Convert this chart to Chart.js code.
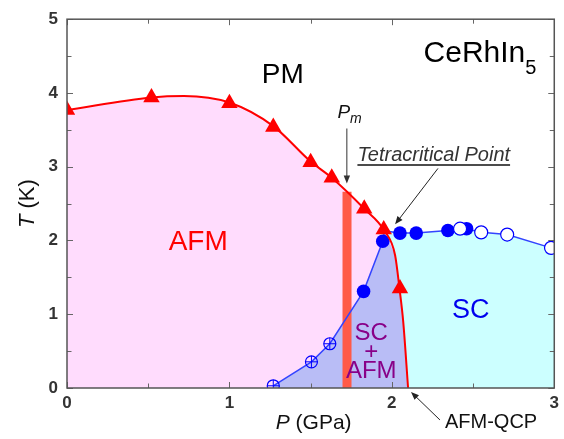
<!DOCTYPE html>
<html>
<head>
<meta charset="utf-8">
<script src="https://cdn.jsdelivr.net/npm/chart.js@4.4.1/dist/chart.umd.min.js"></script>
<style>
  html, body { margin: 0; padding: 0; background: #fff; }
  canvas { display: block; }
</style>
</head>
<body>
<canvas id="c" width="564" height="439"></canvas>
<script>
// T_N of the AFM phase (red triangles)
const tnP = [0, 0.52, 1.0, 1.27, 1.50, 1.63, 1.83, 1.95, 2.05];
const tnT = [3.77, 3.94, 3.86, 3.54, 3.06, 2.85, 2.43, 2.15, 1.35];

// red AFM boundary
const afmP = [0, 0.52, 0.72, 1.0, 1.27, 1.5, 1.63, 1.83, 1.955, 2.02, 2.047, 2.07, 2.1];
const afmT = [3.77, 3.94, 3.96, 3.87, 3.55, 3.07, 2.85, 2.43, 2.13, 1.8, 1.35, 0.9, 0];

// Tc, crossed open circles
const crossP = [1.27, 1.505, 1.618];
const crossT = [0.03, 0.355, 0.60];
// Tc, filled circles
const fullP = [1.826, 1.944, 2.05, 2.15, 2.345, 2.46];
const fullT = [1.31, 1.99, 2.10, 2.10, 2.135, 2.16];
// Tc, open circles
const openP = [2.42, 2.55, 2.71, 2.98];
const openT = [2.16, 2.11, 2.08, 1.90];

// blue SC boundary
const scP = [1.27, 1.505, 1.618, 1.826, 1.944, 1.955, 2.05, 2.15, 2.345, 2.42, 2.46, 2.55, 2.71, 2.98, 3.0];
const scT = [0.03, 0.355, 0.60, 1.31, 1.99, 2.13, 2.10, 2.10, 2.135, 2.16, 2.16, 2.11, 2.08, 1.90, 1.88];

// P_m bar
const pmP = [1.724, 1.724];
const pmT = [0, 2.66];

const xTicks = [0, 1, 2, 3];
const yTicks = [0, 1, 2, 3, 4, 5];

const pts = (xs, ys) => xs.map((x, i) => ({ x: x, y: ys[i] }));
const tcIdx = 5; // tetracritical point in scP
const lavPts = pts(scP.slice(0, tcIdx + 1), scT.slice(0, tcIdx + 1)).concat(pts(afmP.slice(9), afmT.slice(9)));
const cyanPts = pts(scP.slice(tcIdx), scT.slice(tcIdx));

const FONT = '"Liberation Sans", Arial, Helvetica, sans-serif';
const NONE = 'rgba(0,0,0,0)';

function drawParts(ctx, parts, x, y, align) {
  let total = 0;
  const ws = parts.map(p => { ctx.font = p[1]; const w = ctx.measureText(p[0]).width; total += w; return w; });
  let sx = align === 'center' ? x - total / 2 : align === 'right' ? x - total : x;
  ctx.textAlign = 'left';
  ctx.textBaseline = 'alphabetic';
  parts.forEach((p, i) => {
    ctx.font = p[1];
    ctx.fillText(p[0], sx, y + (p[2] || 0));
    sx += ws[i];
  });
  return total;
}

function arrow(ctx, x1, y1, x2, y2, color) {
  const a = Math.atan2(y2 - y1, x2 - x1), L = 8, W = 3.2;
  ctx.strokeStyle = color; ctx.fillStyle = color; ctx.lineWidth = 1;
  ctx.beginPath(); ctx.moveTo(x1, y1); ctx.lineTo(x2 - Math.cos(a) * L * 0.8, y2 - Math.sin(a) * L * 0.8); ctx.stroke();
  ctx.beginPath();
  ctx.moveTo(x2, y2);
  ctx.lineTo(x2 - Math.cos(a) * L - Math.sin(a) * W, y2 - Math.sin(a) * L + Math.cos(a) * W);
  ctx.lineTo(x2 - Math.cos(a) * L + Math.sin(a) * W, y2 - Math.sin(a) * L - Math.cos(a) * W);
  ctx.closePath(); ctx.fill();
}

const decor = {
  id: 'decor',
  afterDatasetsDraw(chart) {
    const ctx = chart.ctx, a = chart.chartArea, sx = chart.scales.x, sy = chart.scales.y;
    ctx.save();
    ctx.strokeStyle = '#666';
    ctx.lineWidth = 1;
    for (let v = 0; v <= 3.001; v += 0.5) {
      const x = Math.round(sx.getPixelForValue(v)) + 0.5, len = v % 1 === 0 ? 6 : 4.5;
      ctx.beginPath();
      ctx.moveTo(x, a.bottom); ctx.lineTo(x, a.bottom - len);
      ctx.moveTo(x, a.top); ctx.lineTo(x, a.top + len);
      ctx.stroke();
    }
    for (let v = 0; v <= 5.001; v += 0.5) {
      const y = Math.round(sy.getPixelForValue(v)) + 0.5, len = v % 1 === 0 ? 6 : 4.5;
      ctx.beginPath();
      ctx.moveTo(a.left, y); ctx.lineTo(a.left + len, y);
      ctx.moveTo(a.right, y); ctx.lineTo(a.right - len, y);
      ctx.stroke();
    }
    ctx.strokeStyle = '#555';
    ctx.lineWidth = 1.5;
    ctx.strokeRect(a.left, a.top, a.right - a.left, a.bottom - a.top);
    ctx.restore();
  },
  afterDraw(chart) {
    const ctx = chart.ctx, a = chart.chartArea, sx = chart.scales.x, sy = chart.scales.y;
    const X = v => sx.getPixelForValue(v), Y = v => sy.getPixelForValue(v);
    ctx.save();
    // phase labels
    ctx.fillStyle = '#000';
    drawParts(ctx, [['PM', '28px ' + FONT]], X(1.329), Y(4.14), 'center');
    drawParts(ctx, [['CeRhIn', '30px ' + FONT], ['5', '20px ' + FONT, 12]], X(2.89), Y(4.425), 'right');
    ctx.fillStyle = '#ff0000';
    drawParts(ctx, [['AFM', '28px ' + FONT]], X(0.808), Y(1.867), 'center');
    ctx.fillStyle = '#0000ee';
    drawParts(ctx, [['SC', '27px ' + FONT]], X(2.486), Y(0.947), 'center');
    ctx.fillStyle = '#880088';
    drawParts(ctx, [['SC', '24px ' + FONT]], X(1.873), Y(0.65), 'center');
    drawParts(ctx, [['+', '24px ' + FONT]], X(1.873), Y(0.392), 'center');
    drawParts(ctx, [['AFM', '24px ' + FONT]], X(1.873), Y(0.135), 'center');
    // P_m
    ctx.fillStyle = '#111';
    drawParts(ctx, [['P', 'italic 19px ' + FONT], ['m', 'italic 14px ' + FONT, 5]], X(1.665), Y(3.654), 'left');
    arrow(ctx, X(1.723), Y(3.518), X(1.723), Y(2.774), '#333');
    // tetracritical point
    const w = drawParts(ctx, [['Tetracritical Point', 'italic 20px ' + FONT]], X(1.788), Y(3.072), 'left');
    ctx.strokeStyle = '#111'; ctx.lineWidth = 1.5;
    ctx.beginPath(); ctx.moveTo(X(1.788), Y(3.072) + 3.5); ctx.lineTo(X(1.788) + w, Y(3.072) + 3.5); ctx.stroke();
    arrow(ctx, X(2.284), Y(2.977), X(2.020), Y(2.219), '#222');
    // AFM-QCP
    ctx.fillStyle = '#111';
    drawParts(ctx, [['AFM-QCP', '20px ' + FONT]], X(2.327), Y(-0.541), 'left');
    arrow(ctx, X(2.296), Y(-0.433), X(2.118), Y(-0.054), '#222');
    // axis titles
    ctx.fillStyle = '#111';
    drawParts(ctx, [['P', 'italic 21px ' + FONT], [' (GPa)', '21px ' + FONT]], (a.left + a.right) / 2 + 3, 429, 'center');
    ctx.translate(34, (a.top + a.bottom) / 2);
    ctx.rotate(-Math.PI / 2);
    drawParts(ctx, [['T', 'italic 22px ' + FONT], [' (K)', '22px ' + FONT]], 0, 0, 'center');
    ctx.restore();
  }
};

const tickFont = { family: FONT, size: 17, weight: 'bold' };

new Chart(document.getElementById('c'), {
  type: 'scatter',
  data: {
    datasets: [
      { data: pts(tnP, tnT), pointStyle: 'triangle', pointRadius: 9.5, backgroundColor: '#ff0000', borderColor: '#ff0000', borderWidth: 0, order: 1 },
      { data: pts(afmP, afmT), showLine: true, cubicInterpolationMode: 'monotone', borderColor: '#ff0000', borderWidth: 2, pointRadius: 0, fill: false, order: 2 },
      { data: pts(openP, openT), pointStyle: 'circle', pointRadius: 6.5, backgroundColor: '#fff', borderColor: '#0000ff', borderWidth: 1.2, order: 3 },
      { data: pts(fullP, fullT), pointStyle: 'circle', pointRadius: 6.8, backgroundColor: '#0000ff', borderColor: '#0000ff', borderWidth: 0, order: 4 },
      { data: pts(crossP, crossT), pointStyle: 'cross', pointRadius: 6, borderColor: '#0000ff', borderWidth: 1, order: 5 },
      { data: pts(crossP, crossT), pointStyle: 'circle', pointRadius: 6, backgroundColor: NONE, borderColor: '#0000ff', borderWidth: 1.2, order: 5 },
      { data: pts(scP, scT), showLine: true, borderColor: '#3344ff', borderWidth: 1.5, pointRadius: 0, fill: false, order: 6 },
      { data: pts(pmP, pmT), showLine: true, borderColor: '#ff5a48', borderWidth: 9, borderCapStyle: 'butt', pointRadius: 0, fill: false, order: 7 },
      { data: lavPts, showLine: true, borderColor: NONE, borderWidth: 0, pointRadius: 0, fill: 'origin', backgroundColor: '#b9bdf6', order: 8 },
      { data: pts(afmP, afmT), showLine: true, cubicInterpolationMode: 'monotone', borderColor: NONE, borderWidth: 0, pointRadius: 0, fill: 'origin', backgroundColor: '#ffdcfd', order: 9 },
      { data: cyanPts, showLine: true, borderColor: NONE, borderWidth: 0, pointRadius: 0, fill: 'origin', backgroundColor: '#ccffff', order: 10 }
    ]
  },
  options: {
    responsive: false,
    animation: false,
    events: [],
    layout: { padding: { top: 18.5, right: 7, left: 0, bottom: 0 } },
    plugins: { legend: { display: false }, tooltip: { enabled: false } },
    scales: {
      x: {
        type: 'linear', min: 0, max: 3,
        afterBuildTicks: s => { s.ticks = xTicks.map(v => ({ value: v })); },
        ticks: { font: tickFont, color: '#333', padding: 5, maxRotation: 0 },
        grid: { display: false, drawTicks: false },
        border: { display: false },
        afterFit: s => { s.height = 51; }
      },
      y: {
        type: 'linear', min: 0, max: 5,
        afterBuildTicks: s => { s.ticks = yTicks.map(v => ({ value: v })); },
        ticks: { font: tickFont, color: '#333', padding: 9 },
        grid: { display: false, drawTicks: false },
        border: { display: false },
        afterFit: s => { s.width = 67; }
      }
    }
  },
  plugins: [decor]
});
</script>
</body>
</html>
